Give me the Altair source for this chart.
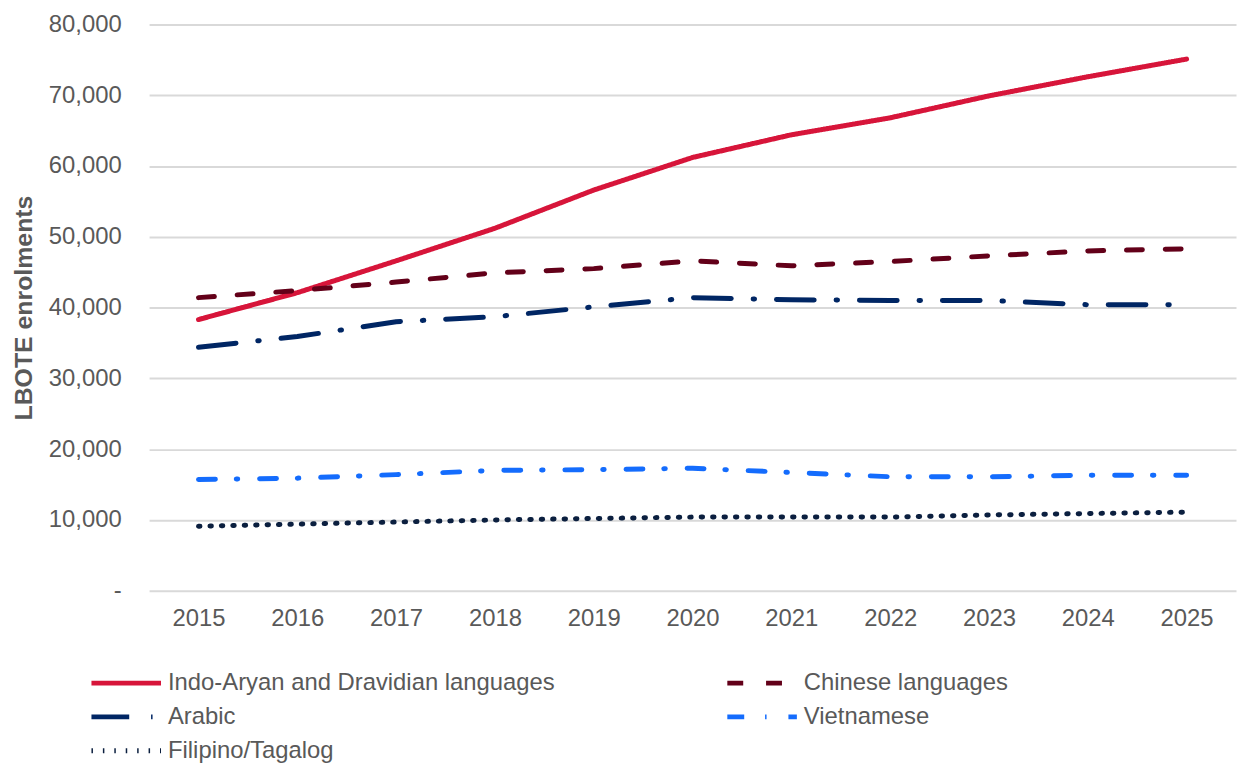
import altair as alt
import pandas as pd

years = [2015, 2016, 2017, 2018, 2019, 2020, 2021, 2022, 2023, 2024, 2025]
series_names = [
    "Indo-Aryan and Dravidian languages",
    "Chinese languages",
    "Arabic",
    "Vietnamese",
    "Filipino/Tagalog",
]
indo_aryan = [38300, 42100, 46600, 51200, 56600, 61200, 64400, 66800, 69900, 72600, 75100]
chinese = [41400, 42400, 43600, 44900, 45500, 46600, 45900, 46500, 47300, 48000, 48300]
arabic = [34400, 35900, 38000, 38700, 40100, 41400, 41100, 41000, 41000, 40400, 40400]
vietnamese = [15700, 15900, 16400, 17000, 17100, 17300, 16700, 16100, 16100, 16300, 16300]
filipino = [9100, 9400, 9700, 10000, 10200, 10400, 10400, 10400, 10700, 10900, 11100]

colors = ["#D7153A", "#630019", "#002664", "#146CFD", "#0B1F3F"]
dashes = [[1, 0], [16, 23], [38, 22, 1.5, 22], [17, 21, 1.5, 22], [1.5, 10]]
y_ticks = [0, 10000, 20000, 30000, 40000, 50000, 60000, 70000, 80000]

# legend fills column by column: reorder so that rows read as in the reference
legend_order = [0, 2, 4, 1, 3]
legend_names = [series_names[i] for i in legend_order]
legend_colors = [colors[i] for i in legend_order]
legend_dashes = [dashes[i] for i in legend_order]

rows = []
for name, vals in zip(series_names, [indo_aryan, chinese, arabic, vietnamese, filipino]):
    for yr, v in zip(years, vals):
        rows.append({"Year": str(yr), "Language": name, "Enrolments": v})
df = pd.DataFrame(rows)

font = "Liberation Sans"
grey = "#595959"

chart = alt.Chart(df).mark_line(strokeWidth=5, strokeCap="round", strokeJoin="round").encode(
    x=alt.X("Year:O", title=None,
            axis=alt.Axis(labelAngle=0, labelFontSize=24, labelColor=grey, labelFont=font,
                          ticks=False, domain=False, grid=False, labelPadding=16)),
    y=alt.Y("Enrolments:Q", title="LBOTE enrolments",
            scale=alt.Scale(domain=[0, 80000], nice=False),
            axis=alt.Axis(values=y_ticks,
                          labelExpr="datum.value == 0 ? '-\u00a0\u00a0\u00a0' : format(datum.value, ',')",
                          labelFontSize=24, labelColor=grey, labelFont=font,
                          ticks=False, domain=False, labelPadding=28,
                          gridColor="#D9D9D9", gridWidth=2,
                          titleFont=font, titleFontSize=25, titleColor=grey,
                          titleFontWeight="bold", titlePadding=12)),
    color=alt.Color("Language:N", scale=alt.Scale(domain=legend_names, range=legend_colors),
                    title=None,
                    legend=alt.Legend(orient="none", legendX=-35, legendY=651, columns=2,
                                      symbolType="M-5,0H5", symbolSize=196, symbolStrokeWidth=5,
                                      labelOffset=30, labelFontSize=24, labelColor=grey,
                                      labelFont=font, rowPadding=10, columnPadding=163,
                                      padding=0, labelLimit=600)),
    strokeDash=alt.StrokeDash("Language:N", scale=alt.Scale(domain=legend_names, range=legend_dashes),
                              legend=None),
).properties(
    width=1094, height=570,
    autosize=alt.AutoSizeParams(type="none"),
    padding={"left": 142, "top": 14, "right": 2, "bottom": 185},
).configure_view(stroke=None)

chart.save("out.html", embed_options={"renderer": "svg", "actions": False})
